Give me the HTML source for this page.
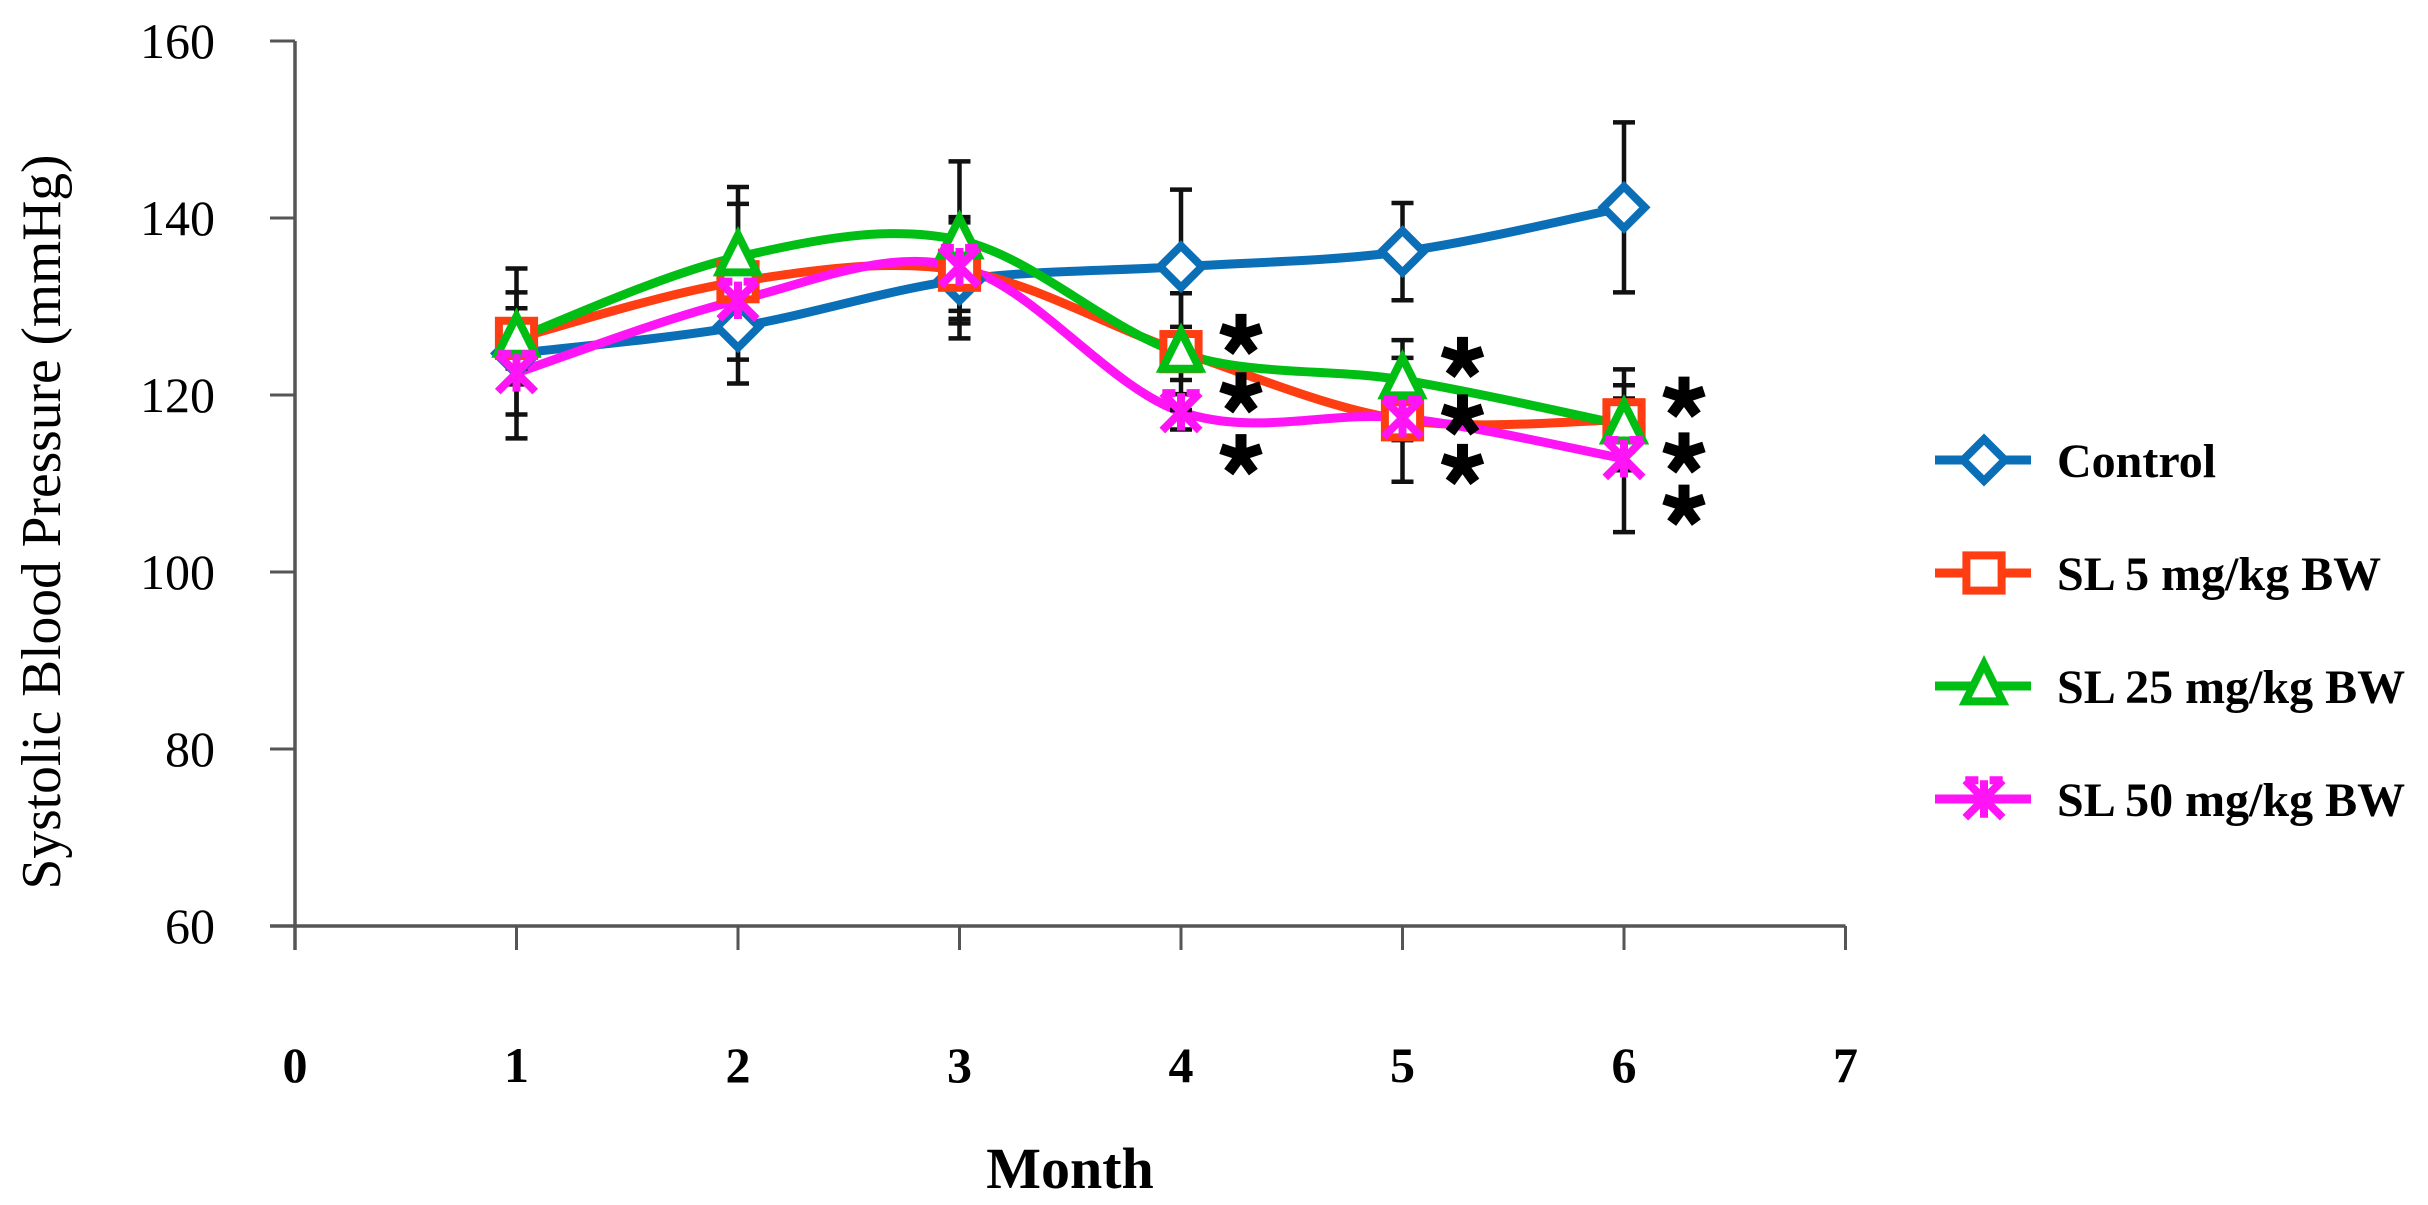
<!DOCTYPE html>
<html><head><meta charset="utf-8"><style>
html,body{margin:0;padding:0;background:#fff;}
svg{display:block;}
</style></head><body>
<svg id="chart" width="2428" height="1205" viewBox="0 0 2428 1205" xmlns="http://www.w3.org/2000/svg" font-family="'Liberation Serif', serif">
<g id="axes"></g>
<g id="plot"></g>
<text x="0" y="0" transform="translate(60,522) rotate(-90)" text-anchor="middle" font-size="56" textLength="735" lengthAdjust="spacingAndGlyphs" fill="#000">Systolic Blood Pressure (mmHg)</text>
<text x="1070" y="1188" text-anchor="middle" font-size="58" font-weight="bold" fill="#000">Month</text>
<g id="legend"></g>
</svg>
<script>
const months = [1, 2, 3, 4, 5, 6];
const seriesNames = ["Control", "SL 5 mg/kg BW", "SL 25 mg/kg BW", "SL 50 mg/kg BW"];
const controlValues = [124.7, 127.7, 133.0, 134.5, 136.2, 141.2];
const sl5Values = [126.4, 132.8, 134.1, 124.9, 117.2, 117.2];
const sl25Values = [126.4, 135.6, 137.5, 124.7, 121.7, 116.6];
const sl50Values = [122.5, 130.7, 134.5, 118.1, 117.4, 112.8];
const controlErr = [9.6, 6.4, 6.6, 8.7, 5.5, 9.6];
const sl5Err = [5.2, 8.8, 6.0, 6.6, 7.0, 5.7];
const sl25Err = [3.4, 7.9, 8.9, 3.0, 4.5, 3.0];
const sl50Err = [4.7, 2.0, 5.0, 2.0, 2.5, 8.3];
const yTicks = [60, 80, 100, 120, 140, 160];
const xTicks = [0, 1, 2, 3, 4, 5, 6, 7];
const starMonths = [4, 5, 6];
const starValuesM4 = [126.8, 120.2, 113.2];
const starValuesM5 = [124.2, 117.7, 112.1];
const starValuesM6 = [119.7, 113.4, 107.5];

const NS = "http://www.w3.org/2000/svg";
const X0 = 295, XU = 221.5, Y0 = 926, YU = 8.85;
function xs(m){ return X0 + m * XU; }
function ys(v){ return Y0 - (v - 60) * YU; }
function mk(tag, attrs, parent){
  const e = document.createElementNS(NS, tag);
  for (const k in attrs) e.setAttribute(k, attrs[k]);
  parent.appendChild(e); return e;
}
const axes = document.getElementById('axes');
const plot = document.getElementById('plot');
const legend = document.getElementById('legend');

let yl = mk('line', {x1: X0, y1: ys(160), x2: X0, y2: 950, stroke: '#555', 'stroke-width': 3.5}, axes);


let xl = mk('line', {x1: 270, y1: Y0, x2: xs(7), y2: Y0, stroke: '#555', 'stroke-width': 3.5}, axes);


yTicks.forEach(v => {
  let t = mk('line', {x1: 270, y1: ys(v), x2: X0, y2: ys(v), stroke: '#555', 'stroke-width': 3}, axes);
  
  
  let l = mk('text', {x: 215, y: ys(v) + 17, 'text-anchor': 'end', 'font-size': 50, fill: '#000'}, axes);
  l.textContent = v;
  
  
});
xTicks.forEach(m => {
  let t = mk('line', {x1: xs(m), y1: Y0, x2: xs(m), y2: 950, stroke: '#555', 'stroke-width': 3}, axes);
  
  
  let l = mk('text', {x: xs(m), y: 1082, 'text-anchor': 'middle', 'font-size': 50, 'font-weight': 'bold', fill: '#000'}, axes);
  l.textContent = m;
  
  
});

const colors = ['#0B6FB8', '#FF3D12', '#00BE14', '#FF14F5'];
const allVals = [controlValues, sl5Values, sl25Values, sl50Values];
const allErr = [controlErr, sl5Err, sl25Err, sl50Err];
const shapes = ['diamond', 'square', 'triangle', 'star'];

function smoothPath(pts){
  let d = 'M' + pts[0][0] + ',' + pts[0][1];
  for (let i = 0; i < pts.length - 1; i++){
    const p0 = pts[i-1] || pts[i], p1 = pts[i], p2 = pts[i+1], p3 = pts[i+2] || p2;
    const c1 = [p1[0] + (p2[0]-p0[0])/6, p1[1] + (p2[1]-p0[1])/6];
    const c2 = [p2[0] - (p3[0]-p1[0])/6, p2[1] - (p3[1]-p1[1])/6];
    d += ' C' + c1 + ' ' + c2 + ' ' + p2;
  }
  return d;
}
function marker(shape, cx, cy, color, parent, s){
  s = s || 1.1;
  let e;
  if (shape === 'diamond'){
    e = mk('polygon', {points: `${cx},${cy-19*s} ${cx+19*s},${cy} ${cx},${cy+19*s} ${cx-19*s},${cy}`, fill: '#fff', stroke: color, 'stroke-width': 8}, parent);
  } else if (shape === 'square'){
    e = mk('rect', {x: cx-16*s, y: cy-16*s, width: 32*s, height: 32*s, fill: '#fff', stroke: color, 'stroke-width': 8}, parent);
  } else if (shape === 'triangle'){
    e = mk('polygon', {points: `${cx},${cy-20*s} ${cx+17*s},${cy+14*s} ${cx-17*s},${cy+14*s}`, fill: '#fff', stroke: color, 'stroke-width': 8}, parent);
  } else {
    const r = 17*s;
    e = mk('path', {d: `M${cx-r},${cy-r} L${cx+r},${cy+r} M${cx+r},${cy-r} L${cx-r},${cy+r} M${cx},${cy-r} L${cx},${cy+r} M${cx-r},${cy-r} L${cx-r*0.3},${cy-r} M${cx+r*0.3},${cy-r} L${cx+r},${cy-r}`, fill: 'none', stroke: color, 'stroke-width': 8}, parent);
  }
  return e;
}

allVals.forEach((vals, si) => {
  const pts = months.map((m, i) => [xs(m), ys(vals[i])]);
  let p = mk('path', {d: smoothPath(pts), fill: 'none', stroke: colors[si], 'stroke-width': 9, 'stroke-linejoin': 'round'}, plot);
  
  
});
allVals.forEach((vals, si) => {
  months.forEach((m, i) => {
    const x = xs(m), t = ys(vals[i] + allErr[si][i]), b = ys(vals[i] - allErr[si][i]);
    let g = mk('path', {d: `M${x},${t} L${x},${b} M${x-11},${t} L${x+11},${t} M${x-11},${b} L${x+11},${b}`, stroke: '#111', 'stroke-width': 4.5, fill: 'none'}, plot);
    
    
  });
});
allVals.forEach((vals, si) => {
  months.forEach((m, i) => {
    let e = marker(shapes[si], xs(m), ys(vals[i]), colors[si], plot);
    
    
  });
});
const starSets = [starValuesM4, starValuesM5, starValuesM6];
function drawStar(cx, cy){
  let d = '';
  for (let k = 0; k < 5; k++){
    const a = -Math.PI/2 + k * 2 * Math.PI / 5;
    d += `M${cx},${cy} L${cx + 21*Math.cos(a)},${cy + 21*Math.sin(a)} `;
  }
  return d;
}
starMonths.forEach((m, mi) => {
  starSets[mi].forEach(v => {
    let s = mk('path', {d: drawStar(xs(m) + 60, ys(v)), stroke: '#000', 'stroke-width': 11, 'stroke-linecap': 'butt', fill: 'none'}, plot);
    
    
  });
});
const legendY = [460, 573, 686, 799];
seriesNames.forEach((n, si) => {
  const y = legendY[si];
  const g = mk('g', {}, legend);
  
  
  mk('line', {x1: 1935, y1: y, x2: 2031, y2: y, stroke: colors[si], 'stroke-width': 9}, g);
  marker(shapes[si], 1984, y, colors[si], g);
  const t = mk('text', {x: 2057, y: y + 17, 'font-size': 48, 'font-weight': 'bold', fill: '#000'}, g);
  t.textContent = n;
});
</script>
</body></html>
